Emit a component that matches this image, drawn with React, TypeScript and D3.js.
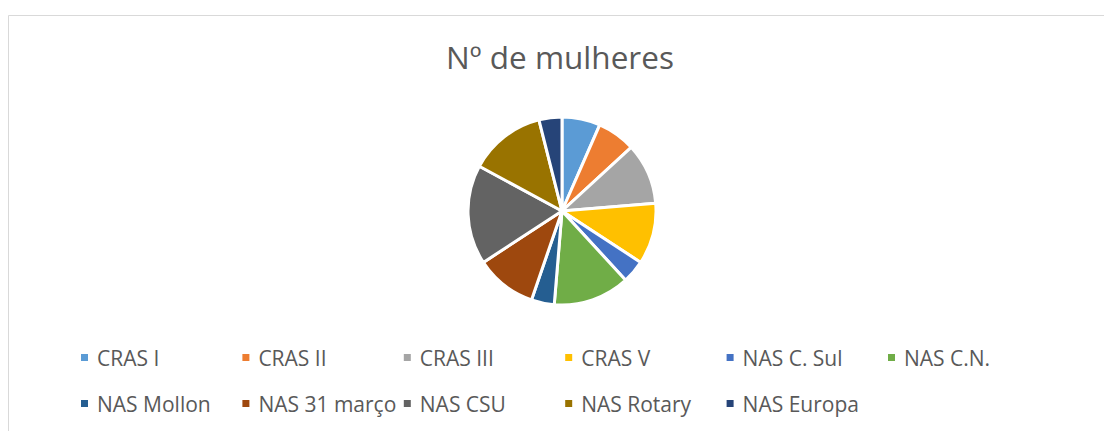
import React from "react";
import * as d3 from "d3";

const categories = [
  "CRAS I",
  "CRAS II",
  "CRAS III",
  "CRAS V",
  "NAS C. Sul",
  "NAS C.N.",
  "NAS Mollon",
  "NAS 31 março",
  "NAS CSU",
  "NAS Rotary",
  "NAS Europa",
];
const values = [5, 5, 8, 8, 3, 10, 3, 8, 13, 10, 3];
const colors = [
  "#5B9BD5",
  "#ED7D31",
  "#A5A5A5",
  "#FFC000",
  "#4472C4",
  "#70AD47",
  "#255E91",
  "#9E480E",
  "#636363",
  "#997300",
  "#264478",
];
const title = "Nº de mulheres";

const W = 1104;
const H = 431;
const cx = 562;
const cy = 211;
const R = 94;
const legendCols = 6;
const legendLeft = 81;
const legendStep = 161.4;
const legendTop = 354;
const legendRowH = 46;

export default function App() {
  const pie = d3
    .pie<number>()
    .sort(null)
    .value((d) => d)(values);
  const arc = d3
    .arc<d3.PieArcDatum<number>>()
    .innerRadius(0)
    .outerRadius(R);

  return (
    <svg
      width={W}
      height={H}
      style={{ position: "absolute", left: 0, top: 0, display: "block" }}
      fontFamily="'Open Sans', sans-serif"
    >
      <rect x={0} y={0} width={W} height={H} fill="#fff" />
      <line x1={8.5} y1={15.5} x2={W} y2={15.5} stroke="#d9d9d9" strokeWidth={1} />
      <line x1={8.5} y1={15.5} x2={8.5} y2={H} stroke="#d9d9d9" strokeWidth={1} />
      <text
        x={560}
        y={69}
        textAnchor="middle"
        fontSize={31.5}
        fill="#595959"
      >
        {title}
      </text>
      <g transform={`translate(${cx},${cy})`}>
        {pie.map((p, i) => (
          <path
            key={categories[i]}
            d={arc(p) || ""}
            fill={colors[i]}
            stroke="#fff"
            strokeWidth={3}
            strokeLinejoin="round"
          />
        ))}
      </g>
      <g>
        {categories.map((c, i) => {
          const col = i % legendCols;
          const row = Math.floor(i / legendCols);
          const x = legendLeft + col * legendStep;
          const y = legendTop + row * legendRowH;
          return (
            <g key={c}>
              <rect x={x} y={y} width={7} height={7} fill={colors[i]} />
              <text x={x + 16} y={y + 11.5} fontSize={21} fill="#595959">
                {c}
              </text>
            </g>
          );
        })}
      </g>
    </svg>
  );
}
